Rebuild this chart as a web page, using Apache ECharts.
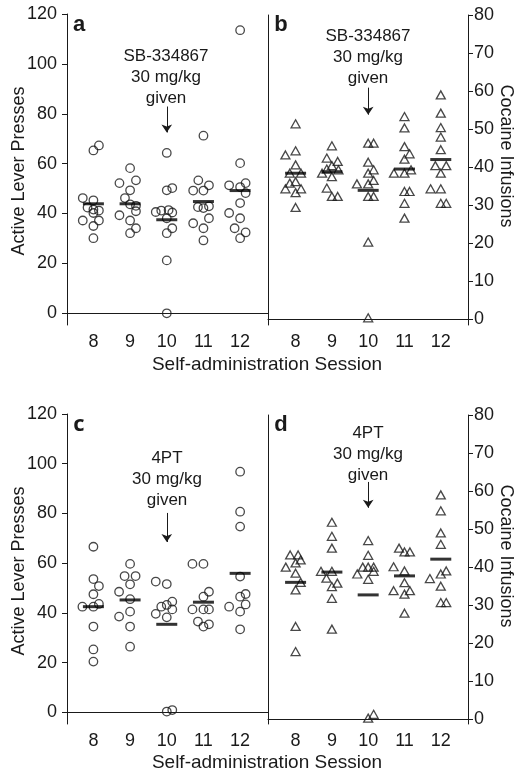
<!DOCTYPE html>
<html>
<head>
<meta charset="utf-8">
<script src="https://cdn.jsdelivr.net/npm/echarts@6/dist/echarts.min.js"></script>
<style>
html,body{margin:0;padding:0;background:#fff;}
#chart{width:521px;height:776px;}
</style>
</head>
<body>
<div id="chart"></div>
<script>
// ---- data ----
const sessions = [8, 9, 10, 11, 12];
const pressTicks = [0, 20, 40, 60, 80, 100, 120];
const infusionTicks = [0, 10, 20, 30, 40, 50, 60, 70, 80];

// panel a: active lever presses, SB-334867 ([jittered session, presses])
const pressesA = [
  [8.15,67.3],[8,65.3],[7.71,46.2],[8,45.3],[7.84,42.4],[8,41.6],[8.15,41.2],[8,40.2],[7.71,37.2],[8.15,37.2],[8,35],[8,30.1],
  [9,58.2],[9.16,53.3],[8.71,52.2],[9,49.3],[8.86,46.2],[9,43.7],[9.16,43.1],[9.16,40.9],[8.71,39.3],[9,37.2],[9.16,34.1],[9,32.1],
  [10,64.3],[10.15,50.2],[10,49.3],[9.7,40.6],[9.85,41.2],[10.05,41.4],[10.15,40.4],[10,38.1],[10.15,34.1],[10,32.1],[10,21.2],[10,0],
  [11,71.2],[10.86,53.3],[11.15,51.3],[10.72,49.2],[11,49.2],[10.85,42.6],[11,42.2],[11.15,42.9],[11.15,38.1],[10.72,36.1],[11,34.1],[11,29.2],
  [12,113.5],[12,60.2],[12.15,52.2],[11.7,51.3],[12,50.6],[12.15,48.2],[12,44.2],[11.7,40.2],[12,38.1],[11.85,34.1],[12.15,32.4],[12,30.1]
];
const meanA = [43.9, 43.9, 37.5, 44.8, 49.2];

// panel b: cocaine infusions, SB-334867
const infusionsB = [
  [8,51.4],[8,44.3],[7.72,43.2],[8,40.6],[7.84,38.4],[8.15,38.4],[8,36.2],[7.84,35.8],[7.72,34.3],[8.15,34.3],[8,33.3],[8,29.4],
  [9,45.6],[8.86,42.4],[9.16,41.5],[9,40.4],[8.86,39.5],[9.18,39.3],[8.73,38.4],[9,37.5],[8.86,34.5],[9,32.3],[9.16,32.3],
  [10,46.3],[10.15,46.3],[10,41.3],[10.15,39.3],[10,38.4],[10.15,36.5],[9.69,35.6],[10,35.6],[10,32.3],[10.15,32.3],[10,20.3],[10,0.4],
  [11,53.3],[11,50.3],[11,45.4],[11.14,43.5],[11,42.1],[11.18,39.3],[10.71,38.4],[11,38.4],[11,33.6],[11.14,33.6],[11,30.5],[11,26.6],
  [12,59],[12,54.2],[12,50.4],[12,47.9],[12,44.6],[11.85,40.4],[12.15,40.4],[12,38.4],[11.72,34.3],[12,34.3],[12,30.5],[12.15,30.5]
];
const meanB = [38.4, 38.8, 33.9, 39.5, 42.0];

// panel c: active lever presses, 4PT
const pressesC = [
  [8,66.6],[8,53.6],[8.15,50.8],[8,47.5],[8.15,43.6],[7.7,42.5],[8,42.5],[8,34.5],[8,25.3],[8,20.4],
  [9,59.7],[8.85,54.8],[9.15,54.8],[9,51.5],[8.7,48.5],[9,45.5],[9,40.5],[8.7,38.5],[9,34.5],[9,26.4],
  [9.7,52.6],[10,51.6],[10.15,44.5],[10,43.2],[9.85,42.5],[10.15,41.4],[9.7,39.6],[10,38.2],[10,0.3],[10.15,0.9],
  [10.7,59.7],[11,59.7],[11.15,48.5],[11,46.5],[10.7,41.4],[11,41.4],[11.15,41.4],[10.85,36.5],[11.15,35.4],[11,34.5],
  [12,96.8],[12,80.7],[12,74.7],[12,54.6],[12.15,47.6],[12,46.5],[12.15,43.4],[11.7,42.5],[12,40.5],[12,33.4]
];
const meanC = [42.5, 45.2, 35.4, 44.3, 55.9];

// panel d: cocaine infusions, 4PT
const infusionsD = [
  [7.85,43.2],[8.07,43.2],[8.14,41.9],[8,41.1],[7.73,40],[8,38.4],[8.14,36],[8,34],[8,24.4],[8,17.8],
  [9,51.8],[9,48.1],[9,45],[8.7,38.9],[9,38.9],[8.85,37.1],[9.15,35.8],[9,34.9],[9,31.8],[9,23.7],
  [10,47],[10,43.1],[9.85,40],[10,40],[10.15,40],[10.15,38.9],[9.7,38.2],[10,36.8],[10,0.3],[10.15,1.3],
  [10.85,45],[11,44],[11.15,44],[10.7,40.1],[11,39],[11,35.9],[10.7,33.8],[11.15,33.8],[11,32.9],[11,27.9],
  [12,59],[12,54.8],[12,49],[12,46],[12.15,39],[12,38.2],[11.7,37],[12,35],[12,30.7],[12.15,30.7]
];
const meanD = [36.0, 38.7, 32.7, 37.7, 42.1];

// annotation texts and arrow spans (data units of each panel)
const noteTop = ['SB-334867', '30 mg/kg', 'given'];
const noteBottom = ['4PT', '30 mg/kg', 'given'];
const arrowA = [82.9, 72.5];
const arrowB = [60.9, 53.8];
const arrowC = [80.2, 68.5];
const arrowD = [62.4, 55.6];
const drugSession = 10;

// ---- chart ----
const FONT = '"Liberation Sans", Arial, Helvetica, sans-serif';
const INK = '#1a1a1a';
const chart = echarts.init(document.getElementById('chart'), null, {renderer: 'canvas'});

function xAxis(gi, min, max) {
  return {
    gridIndex: gi, type: 'value', min: min, max: max,
    axisLine: {show: true, lineStyle: {color: INK, width: 1}},
    axisTick: {show: false},
    splitLine: {show: false},
    axisLabel: {customValues: sessions, fontSize: 18, color: INK, fontFamily: FONT, margin: 8}
  };
}
function yAxis(gi, min, max, ticks, pos, margin) {
  return {
    gridIndex: gi, type: 'value', min: min, max: max, position: pos,
    axisLine: {show: true, onZero: false, lineStyle: {color: INK, width: 1}},
    axisTick: {show: true, customValues: ticks, length: 5, lineStyle: {color: INK, width: 1}},
    splitLine: {show: false},
    axisLabel: {customValues: ticks, fontSize: 18, color: INK, fontFamily: FONT, margin: margin}
  };
}
function divider(gi, min, max) {
  return {
    gridIndex: gi, type: 'value', min: min, max: max, position: 'left',
    axisLine: {show: true, onZero: false, lineStyle: {color: INK, width: 1}},
    axisTick: {show: false}, axisLabel: {show: false}, splitLine: {show: false}
  };
}
function points(xi, yi, data, symbol, size) {
  return {
    type: 'scatter', xAxisIndex: xi, yAxisIndex: yi, data: data,
    symbol: symbol, symbolSize: size, silent: true,
    itemStyle: {color: 'rgba(0,0,0,0)', borderColor: INK, borderWidth: 1.3}
  };
}
function means(xi, yi, vals, arrow) {
  return {
    type: 'scatter', xAxisIndex: xi, yAxisIndex: yi, z: 5,
    data: sessions.map((s, i) => [s, vals[i]]),
    symbol: 'rect', symbolSize: [21, 3], silent: true,
    itemStyle: {color: '#000'},
    markLine: {
      silent: true, symbol: ['none', 'arrow'], symbolSize: 8,
      lineStyle: {color: INK, width: 1, type: 'solid'},
      label: {show: false},
      data: [[{coord: [drugSession, arrow[0]]}, {coord: [drugSession, arrow[1]]}]]
    }
  };
}
function txt(x, y, text, size, opts) {
  opts = opts || {};
  return {
    type: 'text', x: x, y: y, rotation: opts.rot || 0, silent: true,
    style: {
      text: text, fill: INK,
      font: (opts.bold ? 'bold ' : '') + size + 'px ' + (opts.family || FONT),
      align: opts.align || 'center', verticalAlign: opts.valign || 'middle',
      textAlign: opts.align || 'center', textVerticalAlign: opts.valign || 'middle',
      lineHeight: opts.lh || size
    }
  };
}

const option = {
  backgroundColor: '#fff',
  animation: false,
  grid: [
    {left: 67, top: 14, width: 201, height: 311},
    {left: 268, top: 15, width: 200, height: 310},
    {left: 67, top: 414, width: 201, height: 310},
    {left: 268, top: 415, width: 200, height: 309}
  ],
  xAxis: [
    xAxis(0, 7.28, 12.76),
    xAxis(1, 7.24, 12.75),
    xAxis(2, 7.28, 12.76),
    xAxis(3, 7.24, 12.75)
  ],
  yAxis: [
    yAxis(0, -4.7, 120, pressTicks, 'left', 10),
    yAxis(1, -1.5, 80, infusionTicks, 'right', 6),
    divider(1, -1.5, 80),
    yAxis(2, -4.7, 120, pressTicks, 'left', 10),
    yAxis(3, -1.24, 80, infusionTicks, 'right', 6),
    divider(3, -1.24, 80)
  ],
  series: [
    points(0, 0, pressesA, 'circle', 8.5),
    means(0, 0, meanA, arrowA),
    points(1, 1, infusionsB, 'triangle', [9, 8]),
    means(1, 1, meanB, arrowB),
    points(2, 3, pressesC, 'circle', 8.5),
    means(2, 3, meanC, arrowC),
    points(3, 4, infusionsD, 'triangle', [9, 8]),
    means(3, 4, meanD, arrowD)
  ],
  graphic: [
    txt(79, 25, 'a', 22, {bold: true}),
    txt(281, 25, 'b', 22, {bold: true}),
    txt(79, 425, 'c', 22, {bold: true, family: '"Open Sans", ' + FONT}),
    txt(281, 425, 'd', 22, {bold: true}),
    txt(166, 77, noteTop.join('\n'), 17, {lh: 21}),
    txt(368, 57, noteTop.join('\n'), 17, {lh: 21}),
    txt(167, 479, noteBottom.join('\n'), 17, {lh: 21}),
    txt(368, 454, noteBottom.join('\n'), 17, {lh: 21}),
    txt(19, 171, 'Active Lever Presses', 18, {rot: Math.PI / 2}),
    txt(19, 571, 'Active Lever Presses', 18, {rot: Math.PI / 2}),
    txt(506, 156, 'Cocaine Infusions', 18, {rot: -Math.PI / 2}),
    txt(506, 556, 'Cocaine Infusions', 18, {rot: -Math.PI / 2}),
    txt(267, 365, 'Self-administration Session', 19),
    txt(267, 763, 'Self-administration Session', 19)
  ]
};
chart.setOption(option);
</script>
</body>
</html>
